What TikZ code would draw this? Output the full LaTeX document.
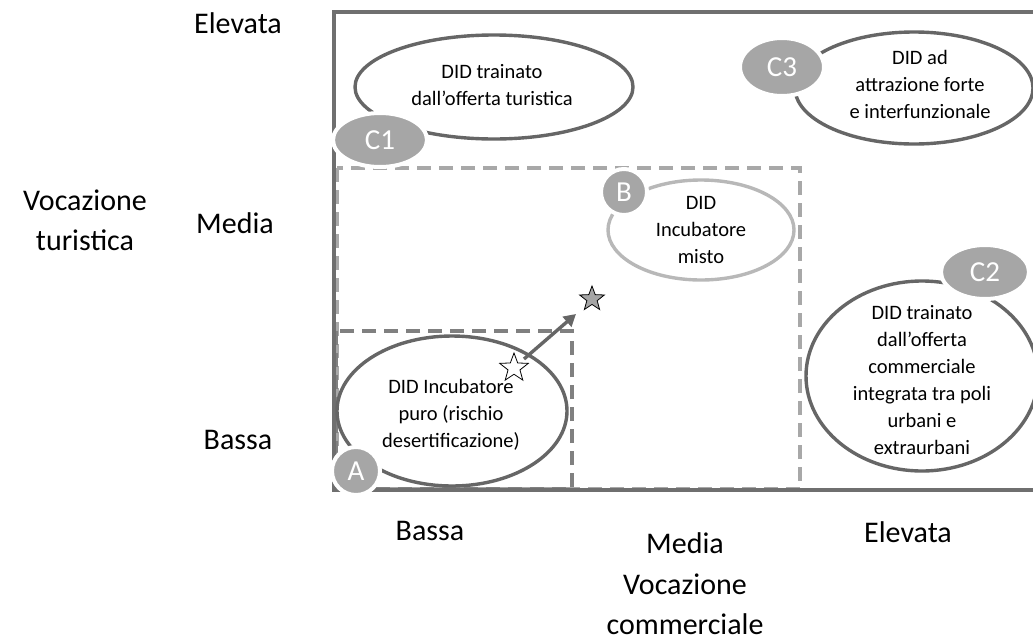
\documentclass[tikz,border=0pt]{standalone}
\usepackage{fontspec}
\setmainfont{Carlito}
\usetikzlibrary{shapes.geometric,arrows.meta}
\definecolor{frame}{HTML}{6F6F6F}
\definecolor{ell}{HTML}{666666}
\definecolor{ellB}{HTML}{B8B8B8}
\definecolor{badge}{HTML}{A6A6A6}
\definecolor{dashA}{HTML}{808080}
\definecolor{dashB}{HTML}{A8A8A8}
\tikzset{
  lab/.style={font=\fontsize{30}{40}\selectfont, text=black, align=center},
  ovaltext/.style={font=\fontsize{20.5}{27}\selectfont, align=center, text=black},
  oval/.style={ellipse, draw=ell, line width=3.4pt, fill=white, inner sep=0pt},
  badgebox/.style={ellipse, fill=badge, draw=white, line width=4pt, text=white,
    font=\fontsize{29}{29}\selectfont, inner sep=0pt},
  dashbox/.style={line width=3.4pt, dash pattern=on 14pt off 8pt},
  starbox/.style={star, star points=5, star point ratio=2.4, draw=black, line width=0.8pt, minimum size=30pt, inner sep=0pt},
}
\begin{document}
\begin{tikzpicture}[x=1pt,y=-1pt]
\useasboundingbox (0,0) rectangle (1033,643);
% dashed regions
\draw[dashbox, draw=dashB] (337,168) rectangle (800,489);
\draw[dashbox, draw=dashA] (336,331) rectangle (572,489);
% frame
\draw[frame, line width=3.6pt] (1045,12) -- (334,12) -- (334,490) -- (1045,490);
% ovals
\node[oval, minimum width=278pt, minimum height=104pt] (c1) at (494,87) {};
\node[ovaltext] at (492,85) {DID trainato\\dall'offerta turistica};
\node[oval, minimum width=238pt, minimum height=112pt] (c3) at (914,88) {};
\node[ovaltext] at (920,84) {DID ad\\attrazione forte\\e interfunzionale};
\node[oval, draw=ellB, minimum width=186pt, minimum height=100pt] (b) at (701,230) {};
\node[ovaltext] at (701,230) {DID\\Incubatore\\misto};
\node[oval, minimum width=232pt, minimum height=190pt] (c2) at (922,376) {};
\node[ovaltext] at (922,380) {DID trainato\\dall'offerta\\commerciale\\integrata tra poli\\urbani e\\extraurbani};
\node[oval, minimum width=230pt, minimum height=150pt] (a) at (452,411) {};
\node[ovaltext] at (451,415) {DID Incubatore\\puro (rischio\\desertificazione)};
% badges
\node[badgebox, minimum width=94pt, minimum height=54pt] (bc1) at (380,140) {C1};
\node[badgebox, minimum width=84pt, minimum height=58pt] (bc3) at (782,67) {C3};
\node[badgebox, minimum width=46pt, minimum height=46pt] (bb) at (624,192) {B};
\node[badgebox, minimum width=88pt, minimum height=54pt] (bc2) at (985,272) {C2};
\node[badgebox, minimum width=48pt, minimum height=48pt] (ba) at (356,471) {A};
% stars and arrow
\node[starbox, fill=white] (ws) at (514,368) {};
\node[starbox, fill=badge, minimum size=26pt] (gs) at (592,299) {};
\coordinate (tip) at (576,314);
\draw[ell, line width=3.4pt, -{Triangle[length=12pt,width=13pt]}] (524,359) -- (tip);
% axis labels
\node[lab] (ye) at (238,23) {Elevata};
\node[lab] (ym) at (235,223) {Media};
\node[lab] (yb) at (238,440) {Bassa};
\node[lab] (yt) at (85,220) {Vocazione\\turistica};
\node[lab] (xb) at (430,531) {Bassa};
\node[lab] (xm) at (685,543) {Media};
\node[lab] (xe) at (908,532) {Elevata};
\node[lab] (xt) at (685,604) {Vocazione\\commerciale};
\end{tikzpicture}
\end{document}
